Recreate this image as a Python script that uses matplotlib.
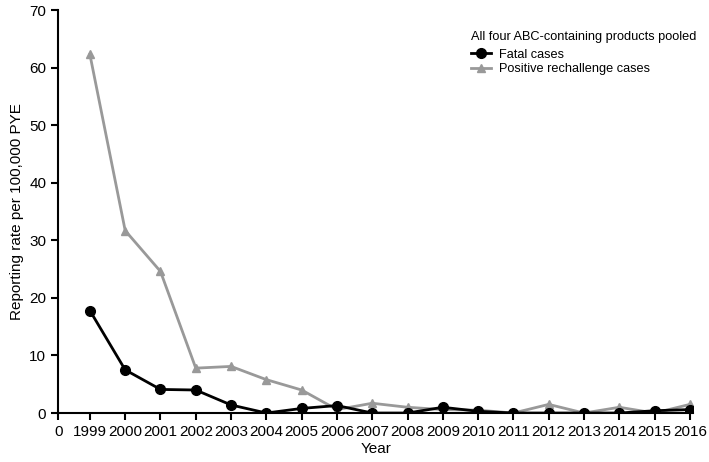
import matplotlib.pyplot as plt
import numpy as np

plt.rcParams['font.family'] = ['Liberation Sans', 'DejaVu Sans']

years = ["1999", "2000", "2001", "2002", "2003", "2004", "2005", "2006", "2007",
         "2008", "2009", "2010", "2011", "2012", "2013", "2014", "2015", "2016"]
fatal = [17.8, 7.5, 4.1, 4.0, 1.4, 0.0, 0.8, 1.3, 0.0,
         0.0, 1.0, 0.3, 0.0, 0.0, 0.0, 0.0, 0.4, 0.6]
rechallenge = [62.3, 31.7, 24.6, 7.8, 8.1, 5.8, 4.0, 0.6, 1.7,
               1.0, 0.6, 0.5, 0.0, 1.5, 0.0, 1.0, 0.0, 1.5]

fig = plt.figure(figsize=(7.09, 4.62), dpi=100)
ax = fig.add_axes([0.082, 0.106, 0.896, 0.872])

x = np.arange(1, len(years) + 1)
ax.plot(x, rechallenge, color="#999999", marker="^", markersize=6, lw=2,
        label="Positive rechallenge cases", zorder=2)
ax.plot(x, fatal, color="black", marker="o", markersize=7, lw=2,
        label="Fatal cases", zorder=3)

ax.set_xlim(0.1, x[-1] + 0.1)
ax.set_ylim(0, 70)
ax.set_xticks([0.1] + list(x), ["0"] + years)
ax.set_yticks(np.arange(0, 71, 10))
ax.tick_params(labelsize=11, direction="out", length=5, width=1.5)
ax.spines['right'].set_visible(False)
ax.spines['top'].set_visible(False)
ax.spines['left'].set_linewidth(1.5)
ax.spines['bottom'].set_linewidth(1.5)
ax.set_xlabel("Year", fontsize=11, labelpad=2)
ax.set_ylabel("Reporting rate per 100,000 PYE", fontsize=11, labelpad=4)

handles, labels = ax.get_legend_handles_labels()
leg = ax.legend(handles[::-1], labels[::-1], title="All four ABC-containing products pooled",
                loc="upper right", bbox_to_anchor=(1.018, 0.97), frameon=False,
                fontsize=9.2, title_fontsize=9.2, handlelength=1.6,
                labelspacing=0.2, borderpad=0.2, handletextpad=0.6)
leg._legend_box.align = "left"
leg._legend_box.sep = 4

fig.savefig("out.png", dpi=100)
